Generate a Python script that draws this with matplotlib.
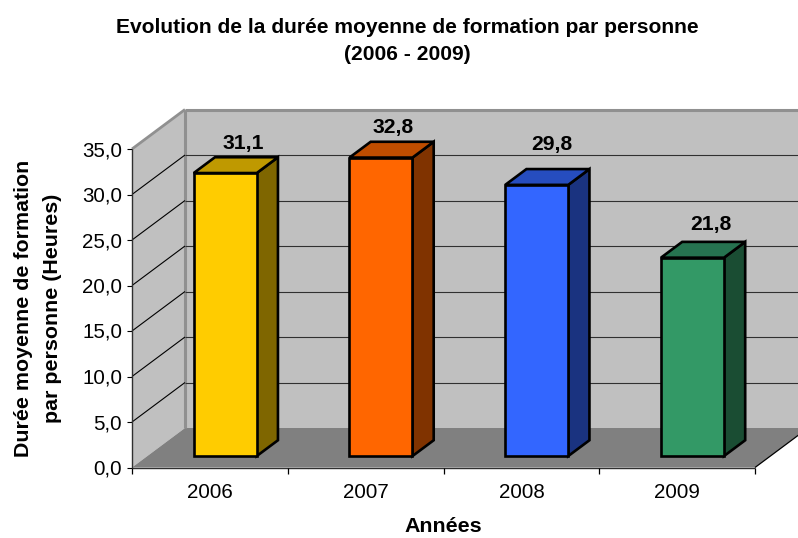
import matplotlib
matplotlib.use("Agg")
import matplotlib.pyplot as plt
from matplotlib.patches import Polygon

plt.rcParams['font.family'] = ['Liberation Sans', 'DejaVu Sans']

# donnees
years = ['2006', '2007', '2008', '2009']
hours = [31.1, 32.8, 29.8, 21.8]
y_ticks = [0, 5, 10, 15, 20, 25, 30, 35]

front_colors = ['#FFCC00', '#FF6600', '#3366FF', '#339966']
top_colors = ['#BF9900', '#BF4D00', '#264DBF', '#267350']
side_colors = ['#7F6600', '#803300', '#1A3380', '#1A4D33']

W, H = 798, 538
fig = plt.figure(figsize=(W / 100, H / 100), dpi=100)
ax = fig.add_axes([132 / W, 1 - 467.5 / H, 623 / W, 318.5 / H])
ax.set_xlim(0, 4)
ax.set_ylim(0, 35)
ax.axis('off')

# profondeur de la vue 3D, en unites de donnees
px_x = 4 / 623
px_y = 35 / 318.5
DX = 53 * px_x
DY = 39.5 * px_y


def poly(pts, fc, ec='none', lw=0, z=1):
    ax.add_patch(Polygon(pts, closed=True, facecolor=fc, edgecolor=ec, linewidth=lw,
                         joinstyle='miter', clip_on=False, zorder=z))


def line(xs, ys, color='black', lw=0.8, z=2):
    ax.plot(xs, ys, color=color, lw=lw, clip_on=False, zorder=z, solid_capstyle='butt')


# murs et sol
poly([(DX, DY), (4 + DX, DY), (4 + DX, 35 + DY), (DX, 35 + DY)], '#C0C0C0')
poly([(0, 0), (DX, DY), (DX, 35 + DY), (0, 35)], '#C0C0C0')
poly([(0, 0), (DX, DY), (4 + DX, DY), (4, 0)], '#808080')

line([DX, 4 + DX], [35 + DY, 35 + DY], '#909090', 2.2)
line([0, DX], [35, 35 + DY], '#909090', 2.0)
line([DX, DX], [DY, 35 + DY], '#909090', 2.2)

# grille
for t in y_ticks[1:-1]:
    line([0, DX], [t, t + DY])
    line([DX, 4 + DX], [t + DY, t + DY], '#303030')
    line([-5 * px_x, 0], [t, t], lw=0.8)
line([-5 * px_x, 0], [0, 0])
line([-5 * px_x, 0], [35, 35])
line([0, 0], [0, 35], '#303030', 1.0)
line([0, 4], [0, 0], '#303030', 1.0)
line([4, 4 + DX], [0, DY], 'black', 0.9)
for i in range(5):
    line([i, i], [0, -6.5 * px_y], lw=0.9)

# barres
bar_w = 63 * px_x
gap = 0.29
depth = 0.40
for i, v in enumerate(hours):
    x0 = i + 0.5 - bar_w / 2 + gap * DX
    y0 = gap * DY
    x1 = x0 + bar_w
    y1 = y0 + v
    ox, oy = depth * DX, depth * DY
    poly([(x1, y0), (x1 + ox, y0 + oy), (x1 + ox, y1 + oy), (x1, y1)], side_colors[i], 'black', 1.9, 3)
    poly([(x0, y1), (x1, y1), (x1 + ox, y1 + oy), (x0 + ox, y1 + oy)], top_colors[i], 'black', 1.9, 3)
    poly([(x0, y0), (x1, y0), (x1, y1), (x0, y1)], front_colors[i], 'black', 1.9, 4)

# etiquettes de valeur
label_nudge = [(7, 14), (2, 14), (4, 25), (8, 17)]
for i, v in enumerate(hours):
    x0 = i + 0.5 + gap * DX + depth * DX / 2
    y1 = gap * DY + v + depth * DY
    ax.annotate(f'{v:.1f}'.replace('.', ','), (x0, y1),
                xytext=(label_nudge[i][0], label_nudge[i][1]), textcoords='offset pixels',
                ha='center', va='center', fontsize=15.2, fontweight='bold', zorder=5,
                annotation_clip=False)

# textes des axes
for t in y_ticks:
    ax.text(-10 * px_x, t - 1.5 * px_y, f'{t:.1f}'.replace('.', ','), ha='right', va='center', fontsize=14.8)
for i, y in enumerate(years):
    ax.text(i + 0.5, -25 * px_y, y, ha='center', va='center', fontsize=14.8)

fig.text(407 / W, 1 - 41 / H, 'Evolution de la durée moyenne de formation par personne\n(2006 - 2009)',
         ha='center', va='center', fontsize=15.1, fontweight='bold', linespacing=1.5)
fig.text(38 / W, 1 - 308 / H, 'Durée moyenne de formation\npar personne (Heures)',
         ha='center', va='center', rotation=90, fontsize=15.4, fontweight='bold', linespacing=1.65)
fig.text(443 / W, 1 - 527 / H, 'Années', ha='center', va='center', fontsize=15.4, fontweight='bold')

fig.savefig('out.png', dpi=100)
